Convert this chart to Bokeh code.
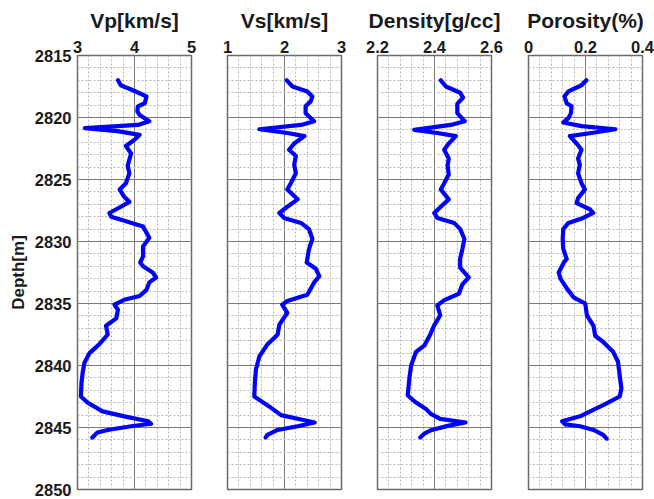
from bokeh.plotting import figure
from bokeh.layouts import row
from bokeh.models import Range1d, FixedTicker, NumeralTickFormatter
from bokeh.embed import file_html
from bokeh.resources import INLINE

# ---------------- data ----------------
depth_vp = [2817.0, 2817.4, 2817.8, 2818.3, 2818.85, 2819.1, 2819.5, 2819.8, 2820.3, 2820.6,
            2820.85, 2821.1, 2821.4, 2821.8, 2822.3, 2822.9, 2823.4, 2823.9, 2824.5, 2825.3,
            2825.8, 2826.4, 2826.8, 2827.2, 2827.7, 2828.0, 2828.4, 2828.8, 2829.3, 2829.7,
            2830.4, 2831.2, 2831.7, 2832.0, 2832.5, 2832.9, 2833.3, 2833.9, 2834.4, 2834.7,
            2835.1, 2835.5, 2836.2, 2836.8, 2837.5, 2838.3, 2839.0, 2839.8, 2840.6, 2841.4,
            2842.5, 2843.0, 2843.7, 2844.1, 2844.5, 2844.7, 2844.9, 2845.2, 2845.4, 2845.8]
vp = [3.71, 3.76, 3.97, 4.21, 4.18, 4.06, 4.05, 4.09, 4.26, 4.06,
      3.13, 3.70, 4.09, 4.00, 3.85, 3.94, 3.91, 3.88, 3.91, 3.85,
      3.74, 3.82, 3.91, 3.76, 3.56, 3.59, 3.88, 4.15, 4.21, 4.26,
      4.15, 4.15, 4.10, 4.15, 4.32, 4.38, 4.26, 4.21, 4.09, 3.82,
      3.65, 3.71, 3.68, 3.50, 3.53, 3.38, 3.21, 3.12, 3.09, 3.07,
      3.06, 3.18, 3.44, 3.82, 4.24, 4.29, 3.94, 3.53, 3.35, 3.26]

depth_vs = [2817.0, 2817.5, 2817.9, 2818.3, 2818.7, 2819.1, 2819.65, 2820.3, 2820.6, 2820.95,
            2821.25, 2821.5, 2822.1, 2822.6, 2823.1, 2823.8, 2824.5, 2825.3, 2825.8, 2826.6,
            2827.2, 2827.7, 2828.1, 2828.5, 2829.0, 2829.8, 2830.6, 2831.7, 2832.2, 2832.8,
            2833.3, 2834.3, 2834.8, 2835.1, 2835.75, 2836.7, 2837.5, 2838.3, 2839.25, 2840.3,
            2841.4, 2842.5, 2843.3, 2844.0, 2844.35, 2844.6, 2844.9, 2845.2, 2845.6, 2845.8]
vs = [2.04, 2.14, 2.40, 2.49, 2.46, 2.37, 2.37, 2.52, 2.29, 1.56,
      2.05, 2.35, 2.17, 2.08, 2.20, 2.17, 2.20, 2.11, 2.05, 2.23,
      2.05, 1.91, 1.99, 2.29, 2.43, 2.49, 2.43, 2.39, 2.55, 2.61,
      2.52, 2.40, 2.05, 1.96, 2.05, 1.91, 1.88, 1.70, 1.56, 1.50,
      1.48, 1.47, 1.73, 1.94, 2.29, 2.53, 2.23, 1.88, 1.70, 1.67]

depth_rho = [2817.0, 2817.5, 2818.0, 2818.4, 2818.9, 2819.65, 2820.3, 2820.6, 2821.0, 2821.25,
             2821.5, 2822.1, 2822.6, 2823.3, 2823.9, 2824.6, 2825.3, 2825.8, 2826.6, 2827.2,
             2827.7, 2828.1, 2828.5, 2829.0, 2829.8, 2830.6, 2831.4, 2832.1, 2832.9, 2833.5,
             2834.2, 2834.75, 2835.15, 2835.95, 2836.8, 2837.5, 2838.4, 2838.9, 2840.0, 2841.0,
             2842.4, 2842.9, 2843.5, 2843.9, 2844.3, 2844.6, 2844.85, 2845.2, 2845.5, 2845.8]
rho = [2.422, 2.440, 2.490, 2.500, 2.480, 2.480, 2.506, 2.457, 2.329, 2.410,
       2.475, 2.450, 2.434, 2.450, 2.446, 2.450, 2.434, 2.422, 2.450, 2.422,
       2.399, 2.410, 2.469, 2.490, 2.505, 2.498, 2.490, 2.490, 2.520, 2.497,
       2.486, 2.433, 2.410, 2.420, 2.398, 2.385, 2.364, 2.335, 2.318, 2.312,
       2.306, 2.330, 2.370, 2.387, 2.420, 2.509, 2.450, 2.390, 2.364, 2.350]

depth_phi = [2817.0, 2817.4, 2817.9, 2818.3, 2818.85, 2819.1, 2819.65, 2820.05, 2820.4, 2820.7,
             2820.95, 2821.25, 2821.5, 2822.1, 2822.6, 2823.3, 2823.8, 2824.5, 2825.3, 2825.8,
             2826.5, 2826.9, 2827.4, 2827.7, 2828.1, 2828.5, 2829.0, 2829.8, 2830.6, 2831.4,
             2831.7, 2832.5, 2833.0, 2833.8, 2834.5, 2835.0, 2835.95, 2836.8, 2837.6, 2838.1,
             2838.9, 2839.7, 2840.8, 2841.85, 2842.5, 2843.2, 2843.7, 2844.1, 2844.5, 2844.75,
             2844.9, 2845.2, 2845.6, 2845.9]
phi = [0.203, 0.186, 0.140, 0.126, 0.134, 0.151, 0.149, 0.140, 0.122, 0.186,
       0.305, 0.221, 0.145, 0.169, 0.186, 0.174, 0.180, 0.174, 0.186, 0.198,
       0.174, 0.169, 0.215, 0.227, 0.192, 0.140, 0.122, 0.120, 0.122, 0.134,
       0.124, 0.106, 0.112, 0.135, 0.158, 0.199, 0.205, 0.228, 0.234, 0.262,
       0.297, 0.314, 0.320, 0.326, 0.320, 0.262, 0.216, 0.181, 0.118, 0.129,
       0.181, 0.228, 0.262, 0.274]

titles = ["Vp[km/s]", "Vs[km/s]", "Density[g/cc]", "Porosity(%)"]
x_ranges = [(3, 5), (1, 3), (2.2, 2.6), (0, 0.4)]
x_ticks = [[3, 4, 5], [1, 2, 3], [2.2, 2.4, 2.6], [0, 0.2, 0.4]]
depth_ticks = [2815, 2820, 2825, 2830, 2835, 2840, 2845, 2850]
depth_label = "Depth[m]"

series = [(depth_vp, vp), (depth_vs, vs), (depth_rho, rho), (depth_phi, phi)]

# ---------------- layout ----------------
FONT = "Liberation Sans"
TXT = "#1a1a1a"
lefts = [77, 18, 18, 19]
rights = [18, 18, 18, 12]
FRAME_W = 114
TOP, BOTTOM, H = 55, 10, 499

figs = []
for i in range(4):
    x0, x1 = x_ranges[i]
    step = (x1 - x0) / 10.0
    xminor = [x0 + k * step for k in range(11)]
    yminor = list(range(2815, 2851))
    xt = FixedTicker(ticks=x_ticks[i], minor_ticks=xminor)
    yt = FixedTicker(ticks=depth_ticks, minor_ticks=yminor)

    p = figure(width=lefts[i] + FRAME_W + rights[i], height=H,
               x_range=Range1d(x0, x1), y_range=Range1d(2850, 2815),
               x_axis_location="above", output_backend="svg", toolbar_location=None,
               min_border_left=lefts[i], min_border_right=rights[i],
               min_border_top=TOP, min_border_bottom=BOTTOM,
               title=titles[i])
    p.title.align = "center"
    p.title.text_font = FONT
    p.title.text_font_size = "21px"
    p.title.text_font_style = "bold"
    p.title.text_color = TXT
    p.title.standoff = 11

    p.xaxis.ticker = xt
    p.yaxis.ticker = yt
    p.xaxis.formatter = NumeralTickFormatter(format="0.[0]")
    for ax in (p.xaxis, p.yaxis):
        ax.major_tick_out = 0
        ax.major_tick_in = 0
        ax.minor_tick_out = 0
        ax.minor_tick_in = 0
        ax.axis_line_color = None
        ax.major_label_text_font = FONT
        ax.major_label_text_font_size = "16.5px"
        ax.major_label_text_font_style = "bold"
        ax.major_label_text_color = TXT
    p.xaxis.major_label_standoff = 3
    p.yaxis.major_label_standoff = 6

    if i == 0:
        p.yaxis.axis_label = depth_label
        p.yaxis.axis_label_text_font = FONT
        p.yaxis.axis_label_text_font_size = "17px"
        p.yaxis.axis_label_text_font_style = "bold"
        p.yaxis.axis_label_text_color = TXT
        p.yaxis.axis_label_standoff = 4
    else:
        p.yaxis.visible = False

    p.xgrid.ticker = xt
    p.ygrid.ticker = yt
    for g in (p.xgrid, p.ygrid):
        g.grid_line_color = "#7a7a7a"
        g.grid_line_width = 1
        g.minor_grid_line_color = "#b8b8b8"
        g.minor_grid_line_dash = "2 2"
        g.minor_grid_line_width = 1

    p.outline_line_color = "#6a6a6a"
    p.outline_line_width = 1.5
    p.background_fill_color = "white"
    p.border_fill_color = "white"

    d, v = series[i]
    p.line(x=v, y=d, line_color="#0000ff", line_width=4.2, line_join="round", line_cap="round")
    figs.append(p)

layout = row(*figs, spacing=0)
open("out.html", "w").write(file_html(layout, INLINE))
